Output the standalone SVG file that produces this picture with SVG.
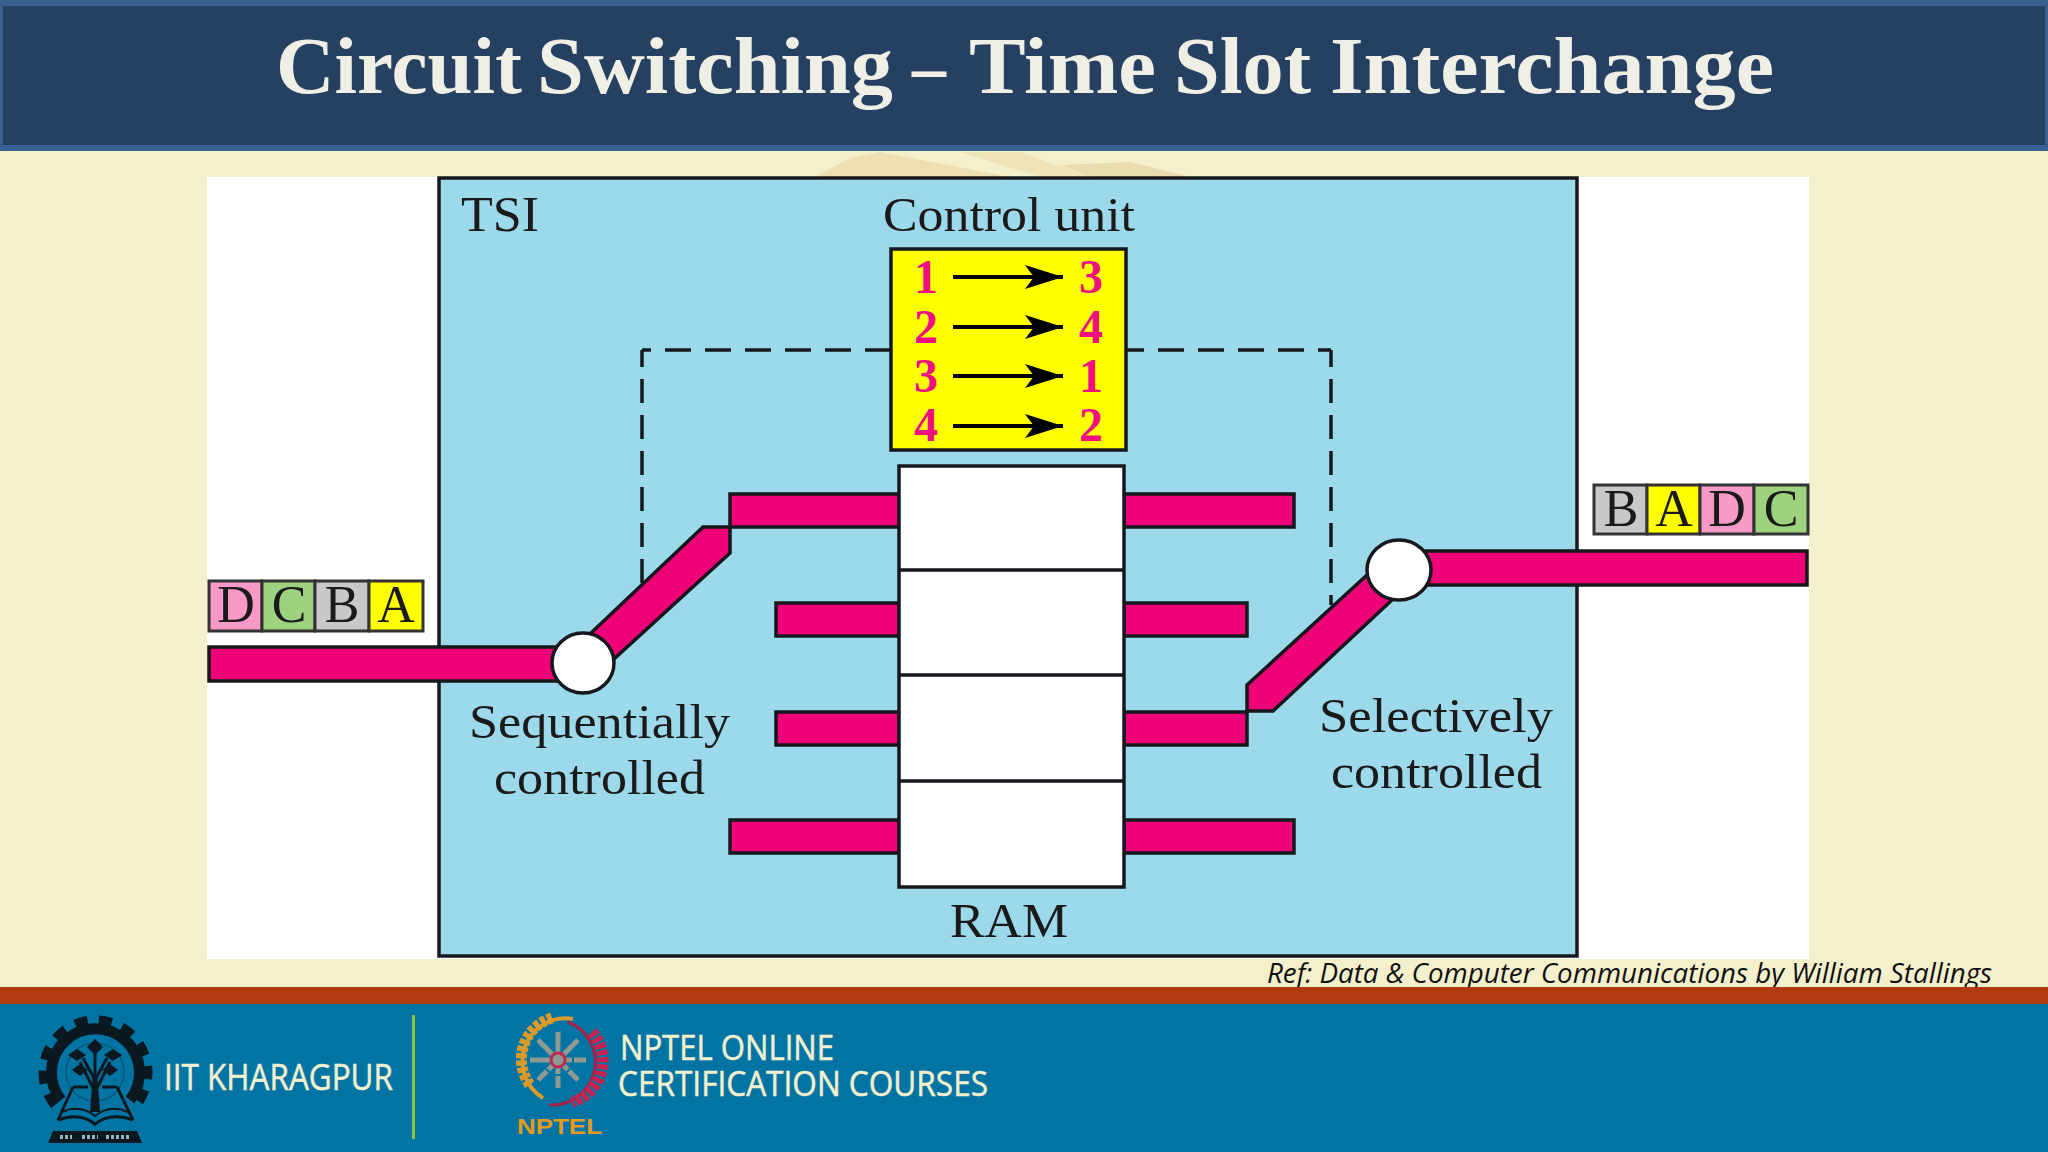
<svg xmlns="http://www.w3.org/2000/svg" width="2048" height="1152" viewBox="0 0 2048 1152">
<style>
.b{stroke:#15181c;stroke-width:3.5}
.p{fill:#ef0277}
.t{font-family:"Liberation Serif",serif;fill:#1a1a1a}
.n{font-family:"Liberation Serif",serif;font-weight:bold;font-size:48px;fill:#ee0f80;text-anchor:middle}
.pk{font-family:"Liberation Serif",serif;font-size:52px;fill:#1a1a1a;text-anchor:middle}
.f{font-family:"Open Sans","Liberation Sans",sans-serif;fill:#f2f0cf;stroke:#f2f0cf;stroke-width:.5}
.a{stroke:#000;stroke-width:4;fill:none;marker-end:url(#ah)}
.d{stroke:#15181c;stroke-width:3.5;fill:none}
.fr{stroke:#333;stroke-width:3}
</style>
<defs>
<marker id="ah" markerUnits="userSpaceOnUse" markerWidth="40" markerHeight="26" refX="38" refY="12" orient="auto"><path d="M0 0L38 12L0 24L9 12Z" fill="#000"/></marker>
</defs>
<rect width="2048" height="1152" fill="#f5f0cc"/>
<g id="watermark">
<path d="M815 177L850 158L880 152L1010 177Z" fill="#eddfb0"/>
<path d="M960 152L1020 152L1090 177L1040 177Z" fill="#efe3b8"/>
<path d="M1060 165L1130 162L1190 177L1090 177Z" fill="#e9dcae"/>
</g>
<g id="header">
<rect width="2048" height="151" fill="#3b5f8f"/>
<rect x="3" y="6" width="2042" height="139" fill="#254061"/>
<text y="93" font-family="Liberation Serif,serif" font-weight="bold" font-size="80" fill="#f0efe6" lengthAdjust="spacingAndGlyphs"><tspan x="276" textLength="246" lengthAdjust="spacingAndGlyphs">Circuit</tspan> <tspan x="537" textLength="356" lengthAdjust="spacingAndGlyphs">Switching</tspan> <tspan x="912" textLength="34" lengthAdjust="spacingAndGlyphs">–</tspan> <tspan x="969" textLength="187" lengthAdjust="spacingAndGlyphs">Time</tspan> <tspan x="1174" textLength="137" lengthAdjust="spacingAndGlyphs">Slot</tspan> <tspan x="1330" textLength="444" lengthAdjust="spacingAndGlyphs">Interchange</tspan></text>
</g>
<rect id="panel" x="207" y="177" width="1602" height="782" fill="#fff"/>
<g id="tsi">
<rect x="439" y="178" width="1138" height="778" fill="#9cd9ea" class="b"/>
<text class="t" x="461" y="231" font-size="50" textLength="78" lengthAdjust="spacingAndGlyphs">TSI</text>
</g>
<g id="connectors">
<path class="d" stroke-dasharray="26 14" d="M891 350H642"/>
<path class="d" stroke-dasharray="24 12" stroke-dashoffset="7" d="M642 350V585"/>
<path class="d" stroke-dasharray="26 14" stroke-dashoffset="8" d="M1126 350H1331"/>
<path class="d" stroke-dasharray="24 12" stroke-dashoffset="7" d="M1331 350V605"/>
</g>
<g id="control-unit">
<text class="t" x="883" y="231" font-size="48" textLength="252" lengthAdjust="spacingAndGlyphs">Control unit</text>
<rect x="891" y="249" width="235" height="201" fill="#ff0" class="b"/>
<text class="n" x="926" y="293">1</text><text class="n" x="1091" y="293">3</text>
<text class="n" x="926" y="343">2</text><text class="n" x="1091" y="343">4</text>
<text class="n" x="926" y="392">3</text><text class="n" x="1091" y="392">1</text>
<text class="n" x="926" y="441">4</text><text class="n" x="1091" y="441">2</text>
<path class="a" d="M953 277H1063"/><path class="a" d="M953 327H1063"/><path class="a" d="M953 376H1063"/><path class="a" d="M953 426H1063"/>
</g>
<g id="left-bars">
<rect class="p b" x="730" y="494" width="169" height="33"/>
<rect class="p b" x="776" y="603" width="123" height="33"/>
<rect class="p b" x="776" y="712" width="123" height="33"/>
<rect class="p b" x="730" y="820" width="169" height="33"/>
</g>
<g id="right-bars">
<rect class="p b" x="1124" y="494" width="170" height="33"/>
<rect class="p b" x="1124" y="603" width="123" height="33"/>
<rect class="p b" x="1124" y="712" width="123" height="33"/>
<rect class="p b" x="1124" y="820" width="170" height="33"/>
</g>
<g id="ram">
<rect x="899" y="466" width="225" height="421" fill="#fff" class="b"/>
<path class="b" d="M899 570H1124M899 675H1124M899 781H1124" fill="none"/>
<text class="t" x="950" y="937" font-size="48" textLength="118" lengthAdjust="spacingAndGlyphs">RAM</text>
</g>
<g id="input-switch">
<rect class="p b" x="209" y="647" width="369" height="34"/>
<path class="p b" d="M591 633L703 527H730V553L615 658Z"/>
<ellipse cx="583" cy="663" rx="31" ry="30" fill="#fff" class="b"/>
<text class="t" x="469" y="738" font-size="48" textLength="261" lengthAdjust="spacingAndGlyphs">Sequentially</text>
<text class="t" x="494" y="794" font-size="48" textLength="211" lengthAdjust="spacingAndGlyphs">controlled</text>
</g>
<g id="output-switch">
<rect class="p b" x="1420" y="551" width="387" height="34"/>
<path class="p b" d="M1367 575L1247 685V711H1273L1392 600Z"/>
<ellipse cx="1399" cy="570" rx="32" ry="30" fill="#fff" class="b"/>
<text class="t" x="1319" y="732" font-size="48" textLength="234" lengthAdjust="spacingAndGlyphs">Selectively</text>
<text class="t" x="1331" y="788" font-size="48" textLength="211" lengthAdjust="spacingAndGlyphs">controlled</text>
</g>
<g id="input-frames">
<rect class="fr" x="209" y="581" width="53" height="50" fill="#f79ac8"/>
<rect class="fr" x="262" y="581" width="53" height="50" fill="#9ed27f"/>
<rect class="fr" x="315" y="581" width="54" height="50" fill="#c8c8c8"/>
<rect class="fr" x="369" y="581" width="54" height="50" fill="#ff0"/>
<text class="pk" x="236" y="622">D</text><text class="pk" x="289" y="622">C</text><text class="pk" x="342" y="622">B</text><text class="pk" x="396" y="622">A</text>
</g>
<g id="output-frames">
<rect class="fr" x="1594" y="485" width="53" height="49" fill="#c8c8c8"/>
<rect class="fr" x="1647" y="485" width="53" height="49" fill="#ff0"/>
<rect class="fr" x="1700" y="485" width="54" height="49" fill="#f79ac8"/>
<rect class="fr" x="1754" y="485" width="54" height="49" fill="#9ed27f"/>
<text class="pk" x="1621" y="526">B</text><text class="pk" x="1674" y="526">A</text><text class="pk" x="1727" y="526">D</text><text class="pk" x="1781" y="526">C</text>
</g>
<text x="1267" y="983" font-family="Open Sans,Liberation Sans,sans-serif" font-style="italic" font-size="27" fill="#111" textLength="725" lengthAdjust="spacingAndGlyphs">Ref: Data &amp; Computer Communications by William Stallings</text>
<g id="footer">
<rect y="987" width="2048" height="17" fill="#b23a10"/>
<rect y="1004" width="2048" height="148" fill="#0274a4"/>
<g id="iit-logo" fill="none" stroke="#0a1820">
<path d="M61 1100A44 44 0 1 1 130 1100" stroke-width="11"/>
<path d="M55 1105A52 52 0 1 1 136 1105" stroke-width="10" stroke-dasharray="13 11"/>
<circle cx="95" cy="1072" r="29" stroke-width="1.2" stroke="#0d4f70"/>
<path d="M95 1095V1050M95 1092L80 1062M95 1092L110 1062M95 1080L83 1058M95 1080L107 1058" stroke-width="3"/>
<path d="M92.5 1078L90 1112H100L97.500 1078Z" fill="#0a1820" stroke="none"/>
<path d="M95 1039L103 1047L95 1055L87 1047ZM77 1049L86 1055L77 1061L68 1055ZM113 1049L122 1055L113 1061L104 1055ZM80 1064L88 1070L80 1076L72 1070ZM110 1064L118 1070L110 1076L102 1070Z" fill="#0a1820" stroke="none"/>
<path d="M73 1087L58 1120M117 1087L133 1120M73 1087H88M102 1087H117" stroke-width="3"/>
<path d="M58 1120Q80 1112 95 1124Q110 1112 133 1120" stroke-width="3"/>
<path d="M62 1112Q80 1104 95 1116Q110 1104 128 1112" stroke-width="2"/>
<path d="M53 1131H137L142 1143H48Z" fill="#0a1820" stroke="none"/>
<path d="M60 1137H72M82 1137H98M106 1137H130" stroke="#9ab2bb" stroke-width="4" stroke-dasharray="3 2"/>
</g>
<text class="f" x="164" y="1090" font-size="36" textLength="229" lengthAdjust="spacingAndGlyphs">IIT KHARAGPUR</text>
<rect x="412" y="1015" width="3" height="124" fill="#8fc43a"/>
<g id="nptel-logo" fill="none">
<path d="M573 1019A43 43 0 0 0 543 1098" stroke="#d89a2a" stroke-width="4"/>
<path d="M552 1018A43 43 0 0 0 530 1085" stroke="#d89a2a" stroke-width="11" stroke-dasharray="5 2"/>
<path d="M568 1022A43 43 0 0 1 550 1105" stroke="#a8204a" stroke-width="3"/>
<path d="M592 1032A43 43 0 0 1 572 1102" stroke="#c8234f" stroke-width="11" stroke-dasharray="5 2"/>
<path d="M558 1032V1088M530 1060H586M538 1040L578 1080M578 1040L538 1080" stroke="#8e9a92" stroke-width="5" stroke-dasharray="20 2"/>
<circle cx="558" cy="1060" r="7" stroke="#c02850" stroke-width="3"/>
<text x="517" y="1134" font-family="Liberation Sans,sans-serif" font-weight="bold" font-size="22" fill="#e39a1f" textLength="85" lengthAdjust="spacingAndGlyphs">NPTEL</text>
</g>
<text class="f" x="620" y="1060" font-size="35" textLength="214" lengthAdjust="spacingAndGlyphs">NPTEL ONLINE</text>
<text class="f" x="618" y="1096" font-size="35" textLength="370" lengthAdjust="spacingAndGlyphs">CERTIFICATION COURSES</text>
</g>
</svg>
